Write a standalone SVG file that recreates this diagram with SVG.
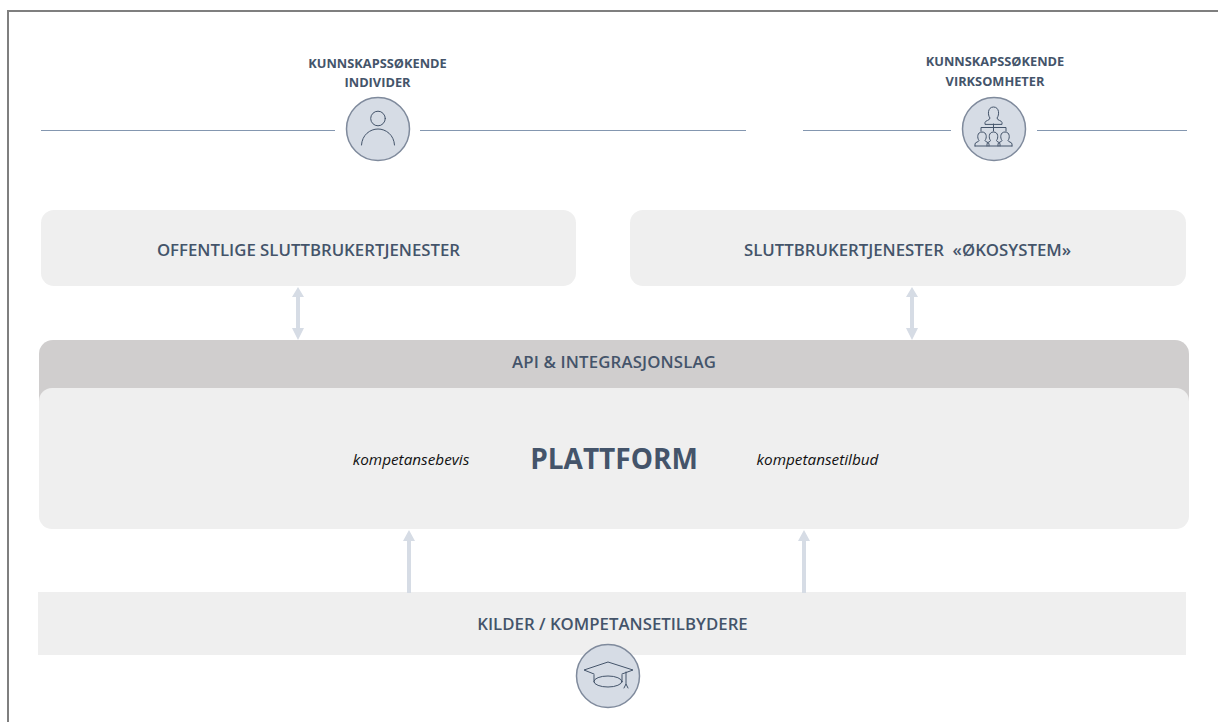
<svg xmlns="http://www.w3.org/2000/svg" width="1218" height="722" viewBox="0 0 1218 722">
<style>
text{font-family:"Open Sans","Noto Sans","Liberation Sans",sans-serif;fill:#44546a;text-anchor:middle}
.b{font-weight:700}
.s{font-size:12.800px;font-weight:700}
.m{font-size:16.800px;font-weight:600}
.i{font-size:15.300px;font-style:italic;fill:#111}
.box{fill:#efefef}
.rule{stroke:#8497b0;stroke-width:1;fill:none}
.disc{fill:#d6dce5;stroke:#7f8a9c;stroke-width:1.5}
.ic{fill:none;stroke:#44546a;stroke-width:1;stroke-linecap:round;stroke-linejoin:round}
.ar{stroke:#d6dce5;stroke-width:4;fill:none}
.hd{fill:#d6dce5}
</style>
<rect width="1218" height="722" fill="#fff"/>
<path d="M8 722V11H1218" fill="none" stroke="#7f7f7f" stroke-width="2"/>
<g id="rules">
<path class="rule" d="M41 130.500H335M420 130.500H746M803 130.500H951M1037 130.500H1187"/>
</g>
<g id="individer">
<text class="s" x="377.500" y="68">KUNNSKAPSSØKENDE</text>
<text class="s" x="377.500" y="87">INDIVIDER</text>
<circle class="disc" cx="378" cy="129" r="31.500"/>
<circle class="ic" cx="378" cy="118.500" r="7.300"/>
<path class="ic" d="M361.500 145C362 135 370 129 378 129C386 129 394 135 394.500 145"/>
</g>
<g id="virksomheter">
<text class="s" x="995" y="66">KUNNSKAPSSØKENDE</text>
<text class="s" x="995" y="86">VIRKSOMHETER</text>
<circle class="disc" cx="994" cy="129" r="31.500"/>
<path class="ic" d="M985 124V122.500C985 120.500 990 120.500 990 118C987.500 115 987.500 107 993.500 107C999.500 107 999.500 115 997 118C997 120.500 1002 120.500 1002 122.500V124Z"/>
<path class="ic" d="M981 131V127.500H1006V131M993.500 124V131"/>
<path class="ic" d="M975 146V144C975 142 979 142 979 140.500C977 138 977 132 982 132C987 132 987 138 985 140.500C985 142 989 142 989 144V146"/>
<path class="ic" d="M987 146V144C987 142 990.500 142 990.500 140.500C988.500 138 988.500 132 993.500 132C998.500 132 998.500 138 996.500 140.500C996.500 142 1000 142 1000 144V146"/>
<path class="ic" d="M998 146V144C998 142 1002 142 1002 140.500C1000 138 1000 132 1005 132C1010 132 1010 138 1008 140.500C1008 142 1012 142 1012 144V146"/>
<path class="ic" d="M975 146H1012"/>
</g>
<g id="offentlige">
<rect class="box" x="41" y="210" width="535" height="76" rx="13"/>
<text class="m" x="308.500" y="256">OFFENTLIGE SLUTTBRUKERTJENESTER</text>
</g>
<g id="okosystem">
<rect class="box" x="630" y="210" width="556" height="76" rx="13"/>
<text class="m" x="907.500" y="256" xml:space="preserve">SLUTTBRUKERTJENESTER  «ØKOSYSTEM»</text>
</g>
<g id="api">
<rect x="39" y="340" width="1150" height="80" rx="14" fill="#d0cece"/>
<text class="m" x="614" y="368" letter-spacing="0.150">API &amp; INTEGRASJONSLAG</text>
</g>
<g id="plattform">
<rect class="box" x="39" y="388" width="1150" height="141" rx="13"/>
<text class="i" x="411" y="465">kompetansebevis</text>
<text class="b" x="614" y="469" font-size="28">PLATTFORM</text>
<text class="i" x="817.500" y="465">kompetansetilbud</text>
</g>
<g id="kilder">
<rect class="box" x="38" y="592" width="1148" height="63"/>
<text class="m" x="612.500" y="630">KILDER / KOMPETANSETILBYDERE</text>
<circle class="disc" cx="608" cy="676" r="31.500"/>
<path class="ic" d="M594 674L584 670L608 662L633 670L622 674"/>
<path class="ic" d="M594 675V682M622 675V682"/>
<ellipse class="ic" cx="608" cy="681.500" rx="14" ry="5.500"/>
<path class="ic" d="M626 672V684M624 688L626 684L628 688"/>
</g>
<g id="connectors">
<path class="ar" d="M298 295V331M912 295V331M409 540V593M804 540V593"/>
<path class="hd" d="M298 287L304 297H292ZM298 340L304 328H292ZM912 287L918 297H906ZM912 340L918 328H906ZM409 530L415 541H403ZM804 530L810 541H798Z"/>
</g>
</svg>
